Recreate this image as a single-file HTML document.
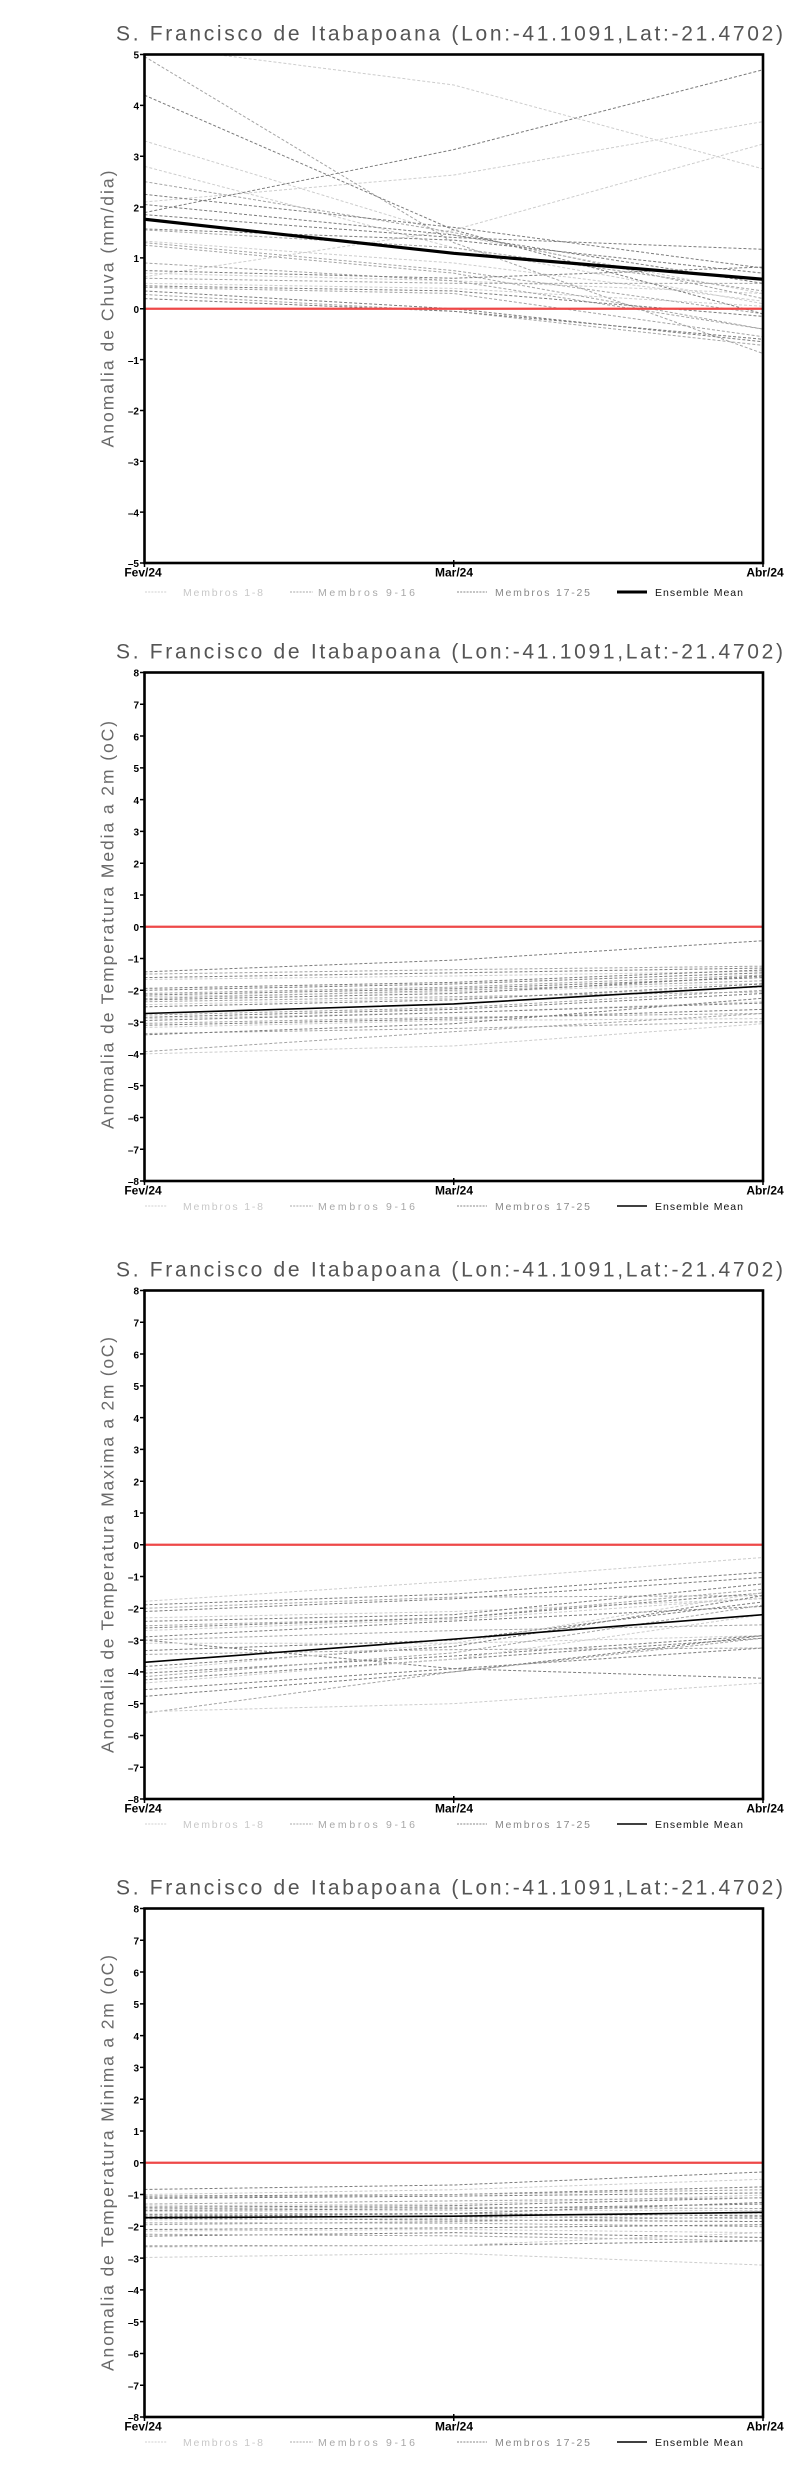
<!DOCTYPE html>
<html><head><meta charset="utf-8">
<style>
html,body{margin:0;padding:0;background:#fff;}
svg{display:block;}
.title{font-family:"Liberation Sans",sans-serif;font-size:21px;fill:#555;}
.ylab{font-family:"Liberation Sans",sans-serif;font-size:17.5px;fill:#6a6a6a;}
.tk{font-family:"Liberation Sans",sans-serif;font-size:10px;font-weight:bold;fill:#000;text-anchor:end;}
.xl{font-family:"Liberation Sans",sans-serif;font-size:12px;font-weight:bold;fill:#000;text-anchor:middle;}
.lg{font-family:"Liberation Sans",sans-serif;font-size:10.5px;}
.m{fill:none;stroke-width:1;stroke-dasharray:3 2;vector-effect:non-scaling-stroke;}
.L{stroke:#cdcdcd;}
.M{stroke:#a4a4a4;}
.D{stroke:#7c7c7c;}
.ens{fill:none;stroke:#000;vector-effect:non-scaling-stroke;}
</style></head><body>
<svg width="800" height="2472" viewBox="0 0 800 2472" xmlns="http://www.w3.org/2000/svg">
<defs><clipPath id="fr"><rect x="144.5" y="54.5" width="618.5" height="508.5"/></clipPath></defs>
<rect width="800" height="2472" fill="#fff"/>

<!-- ================= PANEL 1 ================= -->
<g transform="translate(0,0)">
<text class="title" x="116" y="40.7" textLength="667" lengthAdjust="spacing">S. Francisco de Itabapoana (Lon:-41.1091,Lat:-21.4702)</text>
<text class="ylab" transform="translate(113.3,309) rotate(-90)" text-anchor="middle" textLength="277" lengthAdjust="spacing">Anomalia de Chuva (mm/dia)</text>
<g clip-path="url(#fr)">
<g transform="translate(144.5 308.75) scale(309.25 -50.85)">
<polyline class="m L" points="0,5.18 1,4.4 2,2.75"/>
<polyline class="m L" points="0,3.3 1,1.45 2,0.3"/>
<polyline class="m L" points="0,2.8 1,1.2 2,0.1"/>
<polyline class="m L" points="0,2.1 1,2.63 2,3.68"/>
<polyline class="m L" points="0,0.63 1,1.55 2,3.24"/>
<polyline class="m L" points="0,1.33 1,0.9 2,0.15"/>
<polyline class="m L" points="0,0.5 1,0.4 2,0.05"/>
<polyline class="m L" points="0,0.7 1,0.55 2,0.3"/>
<polyline class="m M" points="0,4.96 1,1.3 2,-0.88"/>
<polyline class="m M" points="0,2.5 1,1.5 2,0.2"/>
<polyline class="m M" points="0,1.55 1,1.2 2,0.35"/>
<polyline class="m M" points="0,1.3 1,0.75 2,-0.1"/>
<polyline class="m M" points="0,1.25 1,0.7 2,-0.4"/>
<polyline class="m M" points="0,0.6 1,0.5 2,0.5"/>
<polyline class="m M" points="0,0.42 1,0.3 2,-0.55"/>
<polyline class="m M" points="0,0.28 1,-0.05 2,-0.72"/>
<polyline class="m M" points="0,0.9 1,0.55 2,-0.4"/>
<polyline class="m D" points="0,4.2 1,1.55 2,-0.1"/>
<polyline class="m D" points="0,1.89 1,3.13 2,4.7"/>
<polyline class="m D" points="0,2.25 1,1.6 2,0.8"/>
<polyline class="m D" points="0,2.05 1,1.45 2,0.5"/>
<polyline class="m D" points="0,1.85 1,1.4 2,1.17"/>
<polyline class="m D" points="0,1.57 1,1.35 2,0.7"/>
<polyline class="m D" points="0,0.75 1,0.6 2,0.82"/>
<polyline class="m D" points="0,0.45 1,0.35 2,-0.15"/>
<polyline class="m D" points="0,0.35 1,0.0 2,-0.65"/>
<polyline class="m D" points="0,0.2 1,-0.05 2,-0.6"/>
</g>
</g>
<line x1="144.5" y1="308.75" x2="763" y2="308.75" stroke="#ee4848" stroke-width="2.3"/>
<g clip-path="url(#fr)"><g transform="translate(144.5 308.75) scale(309.25 -50.85)">
<polyline class="ens" stroke-width="3.2" points="0,1.76 1,1.09 2,0.58"/>
</g></g>
<rect x="144.5" y="54.5" width="618.5" height="508.5" fill="none" stroke="#000" stroke-width="2.6"/>
<path d="M140 54.5H144.5M140 105.35H144.5M140 156.2H144.5M140 207.05H144.5M140 257.9H144.5M140 308.75H144.5M140 359.6H144.5M140 410.45H144.5M140 461.3H144.5M140 512.15H144.5M140 563H144.5M144.5 563V567M453.75 560V567M763 563V567" stroke="#000" stroke-width="1.5"/>
<text class="tk" x="139" y="58.7">5</text>
<text class="tk" x="139" y="109.55">4</text>
<text class="tk" x="139" y="160.4">3</text>
<text class="tk" x="139" y="211.25">2</text>
<text class="tk" x="139" y="262.1">1</text>
<text class="tk" x="139" y="312.95">0</text>
<text class="tk" x="139" y="363.8">–1</text>
<text class="tk" x="139" y="414.65">–2</text>
<text class="tk" x="139" y="465.5">–3</text>
<text class="tk" x="139" y="516.35">–4</text>
<text class="tk" x="139" y="567.2">–5</text>
<text class="xl" x="143" y="576.3">Fev/24</text>
<text class="xl" x="454" y="576.3">Mar/24</text>
<text class="xl" x="765" y="576.3">Abr/24</text>
<line x1="145" y1="592" x2="167" y2="592" stroke="#d0d0d0" stroke-width="1" stroke-dasharray="2 1.2"/>
<text class="lg" x="183" y="596" fill="#c8c8c8" textLength="80" lengthAdjust="spacing">Membros 1-8</text>
<line x1="290" y1="592" x2="313" y2="592" stroke="#a8a8a8" stroke-width="1" stroke-dasharray="2 1.2"/>
<text class="lg" x="318" y="596" fill="#a8a8a8" textLength="97" lengthAdjust="spacing">Membros 9-16</text>
<line x1="457" y1="592" x2="487" y2="592" stroke="#888" stroke-width="1" stroke-dasharray="2 1.2"/>
<text class="lg" x="495" y="596" fill="#888" textLength="95" lengthAdjust="spacing">Membros 17-25</text>
<line x1="617" y1="592" x2="647" y2="592" stroke="#000" stroke-width="3"/>
<text class="lg" x="655" y="596" fill="#111" textLength="88" lengthAdjust="spacing">Ensemble Mean</text>
</g>

<!-- ================= PANEL 2 ================= -->
<g transform="translate(0,618)">
<text class="title" x="116" y="40.7" textLength="667" lengthAdjust="spacing">S. Francisco de Itabapoana (Lon:-41.1091,Lat:-21.4702)</text>
<text class="ylab" transform="translate(113.3,307) rotate(-90)" text-anchor="middle" textLength="408" lengthAdjust="spacing">Anomalia de Temperatura Media a 2m (oC)</text>
<g clip-path="url(#fr)">
<g transform="translate(144.5 308.75) scale(309.25 -31.78)">
<polyline class="m D" points="0,-1.42 1,-1.05 2,-0.44"/>
<polyline class="m M" points="0,-1.49 1,-1.35 2,-1.24"/>
<polyline class="m D" points="0,-1.6 1,-1.45 2,-1.3"/>
<polyline class="m L" points="0,-1.66 1,-1.55 2,-1.4"/>
<polyline class="m D" points="0,-1.94 1,-1.75 2,-1.36"/>
<polyline class="m D" points="0,-2.0 1,-1.8 2,-1.45"/>
<polyline class="m M" points="0,-2.1 1,-1.9 2,-1.52"/>
<polyline class="m D" points="0,-2.15 1,-1.95 2,-1.6"/>
<polyline class="m L" points="0,-2.2 1,-2.05 2,-1.78"/>
<polyline class="m M" points="0,-2.26 1,-2.0 2,-1.7"/>
<polyline class="m D" points="0,-2.3 1,-2.1 2,-1.55"/>
<polyline class="m M" points="0,-2.36 1,-2.2 2,-2.05"/>
<polyline class="m L" points="0,-2.45 1,-2.25 2,-1.9"/>
<polyline class="m D" points="0,-2.52 1,-2.3 2,-1.8"/>
<polyline class="m M" points="0,-2.78 1,-2.55 2,-2.0"/>
<polyline class="m D" points="0,-2.85 1,-2.6 2,-2.1"/>
<polyline class="m L" points="0,-2.89 1,-2.7 2,-2.36"/>
<polyline class="m D" points="0,-2.95 1,-2.7 2,-2.4"/>
<polyline class="m M" points="0,-3.04 1,-2.85 2,-2.73"/>
<polyline class="m D" points="0,-3.1 1,-2.9 2,-2.6"/>
<polyline class="m L" points="0,-3.17 1,-2.95 2,-2.89"/>
<polyline class="m M" points="0,-3.36 1,-3.2 2,-2.99"/>
<polyline class="m D" points="0,-3.4 1,-3.05 2,-2.25"/>
<polyline class="m M" points="0,-3.93 1,-3.3 2,-2.73"/>
<polyline class="m L" points="0,-4.0 1,-3.75 2,-3.05"/>
</g>
</g>
<line x1="144.5" y1="308.75" x2="763" y2="308.75" stroke="#ee4848" stroke-width="2.3"/>
<g transform="translate(144.5 308.75) scale(309.25 -31.78)">
<polyline class="ens" stroke-width="1.6" points="0,-2.73 1,-2.43 2,-1.87"/>
</g>
<rect x="144.5" y="54.5" width="618.5" height="508.5" fill="none" stroke="#000" stroke-width="2.6"/>
<path d="M140 54.5H144.5M140 86.28H144.5M140 118.06H144.5M140 149.84H144.5M140 181.63H144.5M140 213.41H144.5M140 245.19H144.5M140 276.97H144.5M140 308.75H144.5M140 340.53H144.5M140 372.31H144.5M140 404.09H144.5M140 435.88H144.5M140 467.66H144.5M140 499.44H144.5M140 531.22H144.5M140 563H144.5M144.5 563V567M453.75 560V567M763 563V567" stroke="#000" stroke-width="1.5"/>
<text class="tk" x="139" y="58.7">8</text>
<text class="tk" x="139" y="90.48">7</text>
<text class="tk" x="139" y="122.26">6</text>
<text class="tk" x="139" y="154.04">5</text>
<text class="tk" x="139" y="185.83">4</text>
<text class="tk" x="139" y="217.61">3</text>
<text class="tk" x="139" y="249.39">2</text>
<text class="tk" x="139" y="281.17">1</text>
<text class="tk" x="139" y="312.95">0</text>
<text class="tk" x="139" y="344.73">–1</text>
<text class="tk" x="139" y="376.51">–2</text>
<text class="tk" x="139" y="408.29">–3</text>
<text class="tk" x="139" y="440.08">–4</text>
<text class="tk" x="139" y="471.86">–5</text>
<text class="tk" x="139" y="503.64">–6</text>
<text class="tk" x="139" y="535.42">–7</text>
<text class="tk" x="139" y="567.2">–8</text>
<text class="xl" x="143" y="576.3">Fev/24</text>
<text class="xl" x="454" y="576.3">Mar/24</text>
<text class="xl" x="765" y="576.3">Abr/24</text>
<line x1="145" y1="588" x2="167" y2="588" stroke="#d0d0d0" stroke-width="1" stroke-dasharray="2 1.2"/>
<text class="lg" x="183" y="592" fill="#c8c8c8" textLength="80" lengthAdjust="spacing">Membros 1-8</text>
<line x1="290" y1="588" x2="313" y2="588" stroke="#a8a8a8" stroke-width="1" stroke-dasharray="2 1.2"/>
<text class="lg" x="318" y="592" fill="#a8a8a8" textLength="97" lengthAdjust="spacing">Membros 9-16</text>
<line x1="457" y1="588" x2="487" y2="588" stroke="#888" stroke-width="1" stroke-dasharray="2 1.2"/>
<text class="lg" x="495" y="592" fill="#888" textLength="95" lengthAdjust="spacing">Membros 17-25</text>
<line x1="617" y1="588" x2="647" y2="588" stroke="#000" stroke-width="1.5"/>
<text class="lg" x="655" y="592" fill="#111" textLength="88" lengthAdjust="spacing">Ensemble Mean</text>
</g>

<!-- ================= PANEL 3 ================= -->
<g transform="translate(0,1236)">
<text class="title" x="116" y="40.7" textLength="667" lengthAdjust="spacing">S. Francisco de Itabapoana (Lon:-41.1091,Lat:-21.4702)</text>
<text class="ylab" transform="translate(113.3,309) rotate(-90)" text-anchor="middle" textLength="416" lengthAdjust="spacing">Anomalia de Temperatura Maxima a 2m (oC)</text>
<g clip-path="url(#fr)">
<g transform="translate(144.5 308.75) scale(309.25 -31.78)">
<polyline class="m L" points="0,-1.78 1,-1.15 2,-0.4"/>
<polyline class="m D" points="0,-1.89 1,-1.55 2,-0.87"/>
<polyline class="m M" points="0,-2.0 1,-1.65 2,-1.6"/>
<polyline class="m D" points="0,-2.1 1,-1.7 2,-1.03"/>
<polyline class="m L" points="0,-2.3 1,-2.1 2,-1.7"/>
<polyline class="m D" points="0,-2.41 1,-2.2 2,-1.23"/>
<polyline class="m M" points="0,-2.55 1,-2.3 2,-1.4"/>
<polyline class="m D" points="0,-2.62 1,-2.3 2,-1.52"/>
<polyline class="m L" points="0,-2.7 1,-2.35 2,-1.68"/>
<polyline class="m D" points="0,-2.9 1,-2.4 2,-1.94"/>
<polyline class="m D" points="0,-3.0 1,-3.9 2,-4.2"/>
<polyline class="m M" points="0,-3.0 1,-2.7 2,-2.52"/>
<polyline class="m L" points="0,-3.1 1,-3.1 2,-2.86"/>
<polyline class="m D" points="0,-3.33 1,-3.0 2,-1.8"/>
<polyline class="m D" points="0,-3.83 1,-3.2 2,-1.6"/>
<polyline class="m L" points="0,-3.95 1,-3.1 2,-1.5"/>
<polyline class="m D" points="0,-4.04 1,-3.5 2,-2.86"/>
<polyline class="m M" points="0,-4.15 1,-3.4 2,-1.9"/>
<polyline class="m D" points="0,-4.25 1,-3.6 2,-2.94"/>
<polyline class="m L" points="0,-4.35 1,-3.6 2,-2.2"/>
<polyline class="m D" points="0,-4.56 1,-3.9 2,-3.25"/>
<polyline class="m D" points="0,-4.77 1,-4.0 2,-2.86"/>
<polyline class="m M" points="0,-5.3 1,-4.0 2,-2.94"/>
<polyline class="m L" points="0,-5.25 1,-5.0 2,-4.35"/>
<polyline class="m M" points="0,-3.45 1,-3.3 2,-3.25"/>
</g>
</g>
<line x1="144.5" y1="308.75" x2="763" y2="308.75" stroke="#ee4848" stroke-width="2.3"/>
<g transform="translate(144.5 308.75) scale(309.25 -31.78)">
<polyline class="ens" stroke-width="1.6" points="0,-3.7 1,-2.97 2,-2.2"/>
</g>
<rect x="144.5" y="54.5" width="618.5" height="508.5" fill="none" stroke="#000" stroke-width="2.6"/>
<path d="M140 54.5H144.5M140 86.28H144.5M140 118.06H144.5M140 149.84H144.5M140 181.63H144.5M140 213.41H144.5M140 245.19H144.5M140 276.97H144.5M140 308.75H144.5M140 340.53H144.5M140 372.31H144.5M140 404.09H144.5M140 435.88H144.5M140 467.66H144.5M140 499.44H144.5M140 531.22H144.5M140 563H144.5M144.5 563V567M453.75 560V567M763 563V567" stroke="#000" stroke-width="1.5"/>
<text class="tk" x="139" y="58.7">8</text>
<text class="tk" x="139" y="90.48">7</text>
<text class="tk" x="139" y="122.26">6</text>
<text class="tk" x="139" y="154.04">5</text>
<text class="tk" x="139" y="185.83">4</text>
<text class="tk" x="139" y="217.61">3</text>
<text class="tk" x="139" y="249.39">2</text>
<text class="tk" x="139" y="281.17">1</text>
<text class="tk" x="139" y="312.95">0</text>
<text class="tk" x="139" y="344.73">–1</text>
<text class="tk" x="139" y="376.51">–2</text>
<text class="tk" x="139" y="408.29">–3</text>
<text class="tk" x="139" y="440.08">–4</text>
<text class="tk" x="139" y="471.86">–5</text>
<text class="tk" x="139" y="503.64">–6</text>
<text class="tk" x="139" y="535.42">–7</text>
<text class="tk" x="139" y="567.2">–8</text>
<text class="xl" x="143" y="576.3">Fev/24</text>
<text class="xl" x="454" y="576.3">Mar/24</text>
<text class="xl" x="765" y="576.3">Abr/24</text>
<line x1="145" y1="588" x2="167" y2="588" stroke="#d0d0d0" stroke-width="1" stroke-dasharray="2 1.2"/>
<text class="lg" x="183" y="592" fill="#c8c8c8" textLength="80" lengthAdjust="spacing">Membros 1-8</text>
<line x1="290" y1="588" x2="313" y2="588" stroke="#a8a8a8" stroke-width="1" stroke-dasharray="2 1.2"/>
<text class="lg" x="318" y="592" fill="#a8a8a8" textLength="97" lengthAdjust="spacing">Membros 9-16</text>
<line x1="457" y1="588" x2="487" y2="588" stroke="#888" stroke-width="1" stroke-dasharray="2 1.2"/>
<text class="lg" x="495" y="592" fill="#888" textLength="95" lengthAdjust="spacing">Membros 17-25</text>
<line x1="617" y1="588" x2="647" y2="588" stroke="#000" stroke-width="1.5"/>
<text class="lg" x="655" y="592" fill="#111" textLength="88" lengthAdjust="spacing">Ensemble Mean</text>
</g>

<!-- ================= PANEL 4 ================= -->
<g transform="translate(0,1854)">
<text class="title" x="116" y="40.7" textLength="667" lengthAdjust="spacing">S. Francisco de Itabapoana (Lon:-41.1091,Lat:-21.4702)</text>
<text class="ylab" transform="translate(113.3,309) rotate(-90)" text-anchor="middle" textLength="416" lengthAdjust="spacing">Anomalia de Temperatura Minima a 2m (oC)</text>
<g clip-path="url(#fr)">
<g transform="translate(144.5 308.75) scale(309.25 -31.78)">
<polyline class="m D" points="0,-0.84 1,-0.7 2,-0.29"/>
<polyline class="m L" points="0,-1.0 1,-0.85 2,-0.52"/>
<polyline class="m D" points="0,-1.05 1,-1.0 2,-0.76"/>
<polyline class="m M" points="0,-1.1 1,-1.0 2,-0.85"/>
<polyline class="m D" points="0,-1.12 1,-1.05 2,-0.95"/>
<polyline class="m L" points="0,-1.36 1,-1.3 2,-1.02"/>
<polyline class="m D" points="0,-1.4 1,-1.35 2,-1.1"/>
<polyline class="m M" points="0,-1.45 1,-1.4 2,-1.44"/>
<polyline class="m D" points="0,-1.5 1,-1.45 2,-1.3"/>
<polyline class="m L" points="0,-1.54 1,-1.5 2,-1.5"/>
<polyline class="m D" points="0,-1.62 1,-1.6 2,-1.67"/>
<polyline class="m M" points="0,-1.65 1,-1.7 2,-1.75"/>
<polyline class="m D" points="0,-1.75 1,-1.8 2,-1.85"/>
<polyline class="m L" points="0,-1.8 1,-1.75 2,-1.6"/>
<polyline class="m M" points="0,-1.89 1,-1.9 2,-2.01"/>
<polyline class="m D" points="0,-2.1 1,-2.05 2,-1.95"/>
<polyline class="m L" points="0,-2.15 1,-2.1 2,-2.2"/>
<polyline class="m D" points="0,-2.31 1,-2.2 2,-2.35"/>
<polyline class="m M" points="0,-2.25 1,-2.3 2,-2.46"/>
<polyline class="m D" points="0,-2.62 1,-2.6 2,-2.46"/>
<polyline class="m L" points="0,-2.65 1,-2.6 2,-2.2"/>
<polyline class="m L" points="0,-2.98 1,-2.85 2,-3.22"/>
<polyline class="m M" points="0,-1.95 1,-1.85 2,-1.7"/>
<polyline class="m D" points="0,-1.7 1,-1.6 2,-1.25"/>
<polyline class="m M" points="0,-1.3 1,-1.2 2,-1.1"/>
</g>
</g>
<line x1="144.5" y1="308.75" x2="763" y2="308.75" stroke="#ee4848" stroke-width="2.3"/>
<g transform="translate(144.5 308.75) scale(309.25 -31.78)">
<polyline class="ens" stroke-width="1.6" points="0,-1.73 1,-1.68 2,-1.56"/>
</g>
<rect x="144.5" y="54.5" width="618.5" height="508.5" fill="none" stroke="#000" stroke-width="2.6"/>
<path d="M140 54.5H144.5M140 86.28H144.5M140 118.06H144.5M140 149.84H144.5M140 181.63H144.5M140 213.41H144.5M140 245.19H144.5M140 276.97H144.5M140 308.75H144.5M140 340.53H144.5M140 372.31H144.5M140 404.09H144.5M140 435.88H144.5M140 467.66H144.5M140 499.44H144.5M140 531.22H144.5M140 563H144.5M144.5 563V567M453.75 560V567M763 563V567" stroke="#000" stroke-width="1.5"/>
<text class="tk" x="139" y="58.7">8</text>
<text class="tk" x="139" y="90.48">7</text>
<text class="tk" x="139" y="122.26">6</text>
<text class="tk" x="139" y="154.04">5</text>
<text class="tk" x="139" y="185.83">4</text>
<text class="tk" x="139" y="217.61">3</text>
<text class="tk" x="139" y="249.39">2</text>
<text class="tk" x="139" y="281.17">1</text>
<text class="tk" x="139" y="312.95">0</text>
<text class="tk" x="139" y="344.73">–1</text>
<text class="tk" x="139" y="376.51">–2</text>
<text class="tk" x="139" y="408.29">–3</text>
<text class="tk" x="139" y="440.08">–4</text>
<text class="tk" x="139" y="471.86">–5</text>
<text class="tk" x="139" y="503.64">–6</text>
<text class="tk" x="139" y="535.42">–7</text>
<text class="tk" x="139" y="567.2">–8</text>
<text class="xl" x="143" y="576.3">Fev/24</text>
<text class="xl" x="454" y="576.3">Mar/24</text>
<text class="xl" x="765" y="576.3">Abr/24</text>
<line x1="145" y1="588" x2="167" y2="588" stroke="#d0d0d0" stroke-width="1" stroke-dasharray="2 1.2"/>
<text class="lg" x="183" y="592" fill="#c8c8c8" textLength="80" lengthAdjust="spacing">Membros 1-8</text>
<line x1="290" y1="588" x2="313" y2="588" stroke="#a8a8a8" stroke-width="1" stroke-dasharray="2 1.2"/>
<text class="lg" x="318" y="592" fill="#a8a8a8" textLength="97" lengthAdjust="spacing">Membros 9-16</text>
<line x1="457" y1="588" x2="487" y2="588" stroke="#888" stroke-width="1" stroke-dasharray="2 1.2"/>
<text class="lg" x="495" y="592" fill="#888" textLength="95" lengthAdjust="spacing">Membros 17-25</text>
<line x1="617" y1="588" x2="647" y2="588" stroke="#000" stroke-width="1.5"/>
<text class="lg" x="655" y="592" fill="#111" textLength="88" lengthAdjust="spacing">Ensemble Mean</text>
</g>
</svg>
</body></html>
